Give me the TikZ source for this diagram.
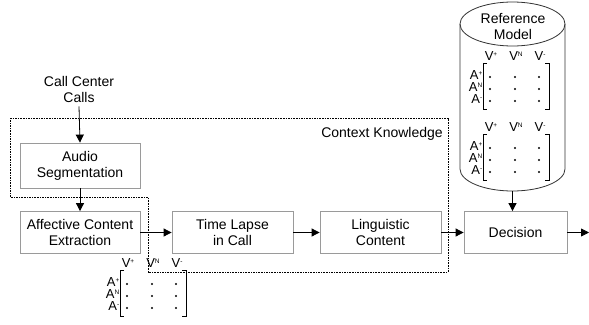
\documentclass[tikz,border=0pt]{standalone}
\usepackage{fontspec}
\setmainfont{Liberation Sans}
\usetikzlibrary{arrows.meta}
\definecolor{boxgray}{HTML}{9A9A9A}
\newcommand\sps[1]{\raisebox{0.6ex}{\fontsize{6.5}{6.5}\selectfont #1}}
\tikzset{
 box/.style={draw=boxgray, line width=0.8pt, minimum width=120pt, minimum height=42pt, align=center, font=\fontsize{14}{16}\selectfont, inner sep=0pt},
 lbl/.style={align=center, font=\fontsize{14}{16}\selectfont, inner sep=0pt},
 arr/.style={-{Triangle[length=8pt,width=8pt]}, line width=0.8pt},
 ctx/.style={dash pattern=on 1.6pt off 1pt, line width=0.6pt},
 mlbl/.style={font=\fontsize{13}{13}\selectfont, inner sep=0pt},
 brk/.style={line width=0.8pt},
 cyl/.style={draw=black!80, line width=0.8pt},
}
\newcommand\vamat[3]{%
 \node[mlbl] (#1v1) at ({#2+8},{#3-7}) {V\sps{+}};
 \node[mlbl] (#1v2) at ({#2+33},{#3-7}) {V\sps{N}};
 \node[mlbl] (#1v3) at ({#2+57},{#3-7}) {V\sps{-}};
 \node[mlbl,anchor=east] (#1a1) at ({#2-0.5},{#3+12}) {A\sps{+}};
 \node[mlbl,anchor=east] (#1a2) at ({#2-0.5},{#3+24}) {A\sps{N}};
 \node[mlbl,anchor=east] (#1a3) at ({#2-0.5},{#3+36}) {A\sps{-}};
 \draw[brk] ({#2+4},#3) -- (#2,#3) -- (#2,{#3+46}) -- ({#2+4},{#3+46});
 \draw[brk] ({#2+62},#3) -- ({#2+66},#3) -- ({#2+66},{#3+46}) -- ({#2+62},{#3+46});
 \foreach \yy in {14,26,38} \foreach \xx in {7,32,56} \fill ({#2+\xx},{#3+\yy}) circle (1.1pt);
}
\begin{document}
\begin{tikzpicture}[x=1pt,y=-1pt]
\useasboundingbox (0,0) rectangle (589,324);
% context region
\draw[ctx] (10,118) -- (448,118) -- (448,272) -- (148,272) -- (148,197) -- (10,197) -- cycle;
\node[lbl] (ctxlbl) at (382,134) {Context Knowledge};
% nodes
\node[lbl] (calls) at (79,89) {Call Center\\Calls};
\node[box, minimum height=45pt] (audio) at (80,165.5) {Audio\\Segmentation};
\node[box] (aff) at (80,232.5) {Affective Content\\Extraction};
\node[box, minimum width=121pt] (time) at (232.5,232.5) {Time Lapse\\in Call};
\node[box, minimum width=121pt] (ling) at (380.5,232.5) {Linguistic\\Content};
\node[box, minimum width=103pt] (dec) at (515.5,232.5) {Decision};
\coordinate (out) at (589,232.5);
% cylinder
\draw[cyl] (460,24) -- (460,169) arc[start angle=180, end angle=360, x radius=52.5pt, y radius=22pt] -- (565,24);
\draw[cyl] (512.5,24) ellipse [x radius=52.5pt, y radius=22pt];
\coordinate (cylbot) at (512.5,191);
\node[lbl] (refm) at (513,26.5) {Reference\\Model};
% matrices
\vamat{m1}{483}{63}
\vamat{m2}{483}{134}
\vamat{m3}{120}{270}
% arrows
\draw[arr] ([yshift=-4pt]calls.south) -- (audio.north);
\draw[arr] (audio.south) -- (aff.north);
\draw[arr] (aff.east) -- (time.west);
\draw[arr] (time.east) -- (ling.west);
\draw[arr] (ling.east) -- (dec.west);
\draw[arr] (cylbot) -- (cylbot |- dec.north);
\draw[arr] (dec.east) -- (out);
\end{tikzpicture}
\end{document}
